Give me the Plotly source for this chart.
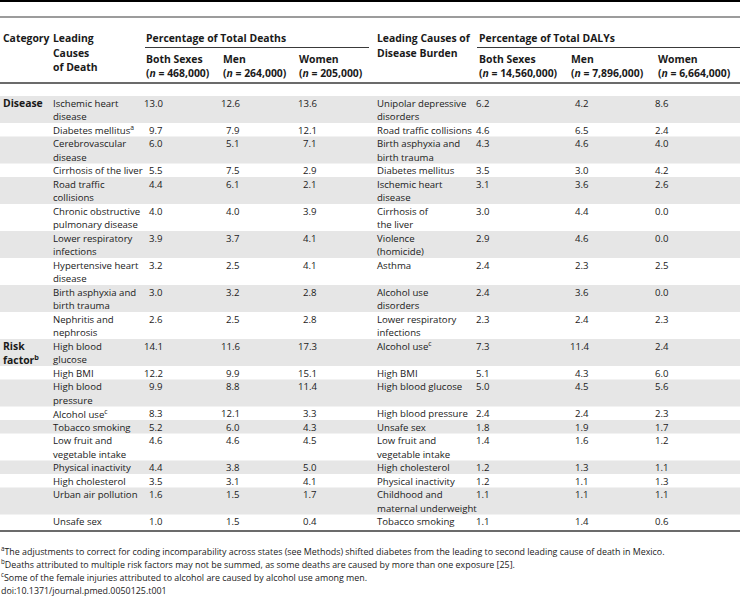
import plotly.graph_objects as go

# ---------------- data ----------------
category_labels = ["Disease", "", "", "", "", "", "", "", "", "",
                   "Risk<br>factor<sup>b</sup>", "", "", "", "", "", "", "", "", ""]

death_causes = [
    "Ischemic heart<br>disease", "Diabetes mellitus<sup>a</sup>", "Cerebrovascular<br>disease",
    "Cirrhosis of the liver", "Road traffic<br>collisions", "Chronic obstructive<br>pulmonary disease",
    "Lower respiratory<br>infections", "Hypertensive heart<br>disease", "Birth asphyxia and<br>birth trauma",
    "Nephritis and<br>nephrosis", "High blood<br>glucose", "High BMI", "High blood<br>pressure",
    "Alcohol use<sup>c</sup>", "Tobacco smoking", "Low fruit and<br>vegetable intake",
    "Physical inactivity", "High cholesterol", "Urban air pollution", "Unsafe sex",
]
deaths_both = [13.0, 9.7, 6.0, 5.5, 4.4, 4.0, 3.9, 3.2, 3.0, 2.6, 14.1, 12.2, 9.9, 8.3, 5.2, 4.6, 4.4, 3.5, 1.6, 1.0]
deaths_men = [12.6, 7.9, 5.1, 7.5, 6.1, 4.0, 3.7, 2.5, 3.2, 2.5, 11.6, 9.9, 8.8, 12.1, 6.0, 4.6, 3.8, 3.1, 1.5, 1.5]
deaths_women = [13.6, 12.1, 7.1, 2.9, 2.1, 3.9, 4.1, 4.1, 2.8, 2.8, 17.3, 15.1, 11.4, 3.3, 4.3, 4.5, 5.0, 4.1, 1.7, 0.4]

daly_causes = [
    "Unipolar depressive<br>disorders", "Road traffic collisions", "Birth asphyxia and<br>birth trauma",
    "Diabetes mellitus", "Ischemic heart<br>disease", "Cirrhosis of<br>the liver", "Violence<br>(homicide)",
    "Asthma", "Alcohol use<br>disorders", "Lower respiratory<br>infections", "Alcohol use<sup>c</sup>",
    "High BMI", "High blood glucose", "High blood pressure", "Unsafe sex",
    "Low fruit and<br>vegetable intake", "High cholesterol", "Physical inactivity",
    "Childhood and<br>maternal underweight", "Tobacco smoking",
]
daly_both = [6.2, 4.6, 4.3, 3.5, 3.1, 3.0, 2.9, 2.4, 2.4, 2.3, 7.3, 5.1, 5.0, 2.4, 1.8, 1.4, 1.2, 1.2, 1.1, 1.1]
daly_men = [4.2, 6.5, 4.6, 3.0, 3.6, 4.4, 4.6, 2.3, 3.6, 2.4, 11.4, 4.3, 4.5, 2.4, 1.9, 1.6, 1.3, 1.1, 1.1, 1.4]
daly_women = [8.6, 2.4, 4.0, 4.2, 2.6, 0.0, 0.0, 2.5, 0.0, 2.3, 2.4, 6.0, 5.6, 2.3, 1.7, 1.2, 1.1, 1.3, 1.1, 0.6]

death_groups = ["Both Sexes", "Men", "Women"]
death_ns = ["468,000", "264,000", "205,000"]
daly_groups = ["Both Sexes", "Men", "Women"]
daly_ns = ["14,560,000", "7,896,000", "6,664,000"]

footnotes = [
    "<sup>a</sup>The adjustments to correct for coding incomparability across states (see Methods) shifted diabetes from the leading to second leading cause of death in Mexico.",
    "<sup>b</sup>Deaths attributed to multiple risk factors may not be summed, as some deaths are caused by more than one exposure [25].",
    "<sup>c</sup>Some of the female injuries attributed to alcohol are caused by alcohol use among men.",
    "doi:10.1371/journal.pmed.0050125.t001",
]

# ---------------- layout / style ----------------
W, H = 740, 597
FONT = "Open Sans"
TXT = "#1a1a1a"
SHADE = "#e6e6e6"
FS = 9.6
FS_BOLD = 10.4
FS_FOOT = 8.9
LINE = 13.5
ROW_TOP0 = 96
FIRST_OFF = 7

X_CAT = 3
X_CAUSE_L = 53
DEATH_HDR_X = [146, 223, 299]
DEATH_VAL_R = [163, 240, 317]
X_CAUSE_R = 377
DALY_HDR_X = [479, 571, 658]
DALY_VAL_R = [490, 589, 669]

fig = go.Figure()
fig.add_trace(go.Scatter(x=[0, W], y=[0, H], mode="markers", marker=dict(opacity=0),
                         hoverinfo="skip", showlegend=False))

annotations = []
shapes = []


def txt(x, y, s, anchor="left", bold=False, size=None):
    if size is None:
        size = FS_BOLD if bold else FS
    s2 = f"<b>{s}</b>" if bold else s
    annotations.append(dict(x=x, y=y, xref="x", yref="y", text=s2, showarrow=False,
                            xanchor=anchor, yanchor="middle", borderpad=0, borderwidth=0,
                            font=dict(family=FONT, size=size, color=TXT)))


def multiline(x, ytop, s, anchor="left", bold=False, size=None, step=LINE):
    for i, part in enumerate(s.split("<br>")):
        txt(x, ytop + i * step, part, anchor, bold, size)


def hline(y, x0, x1, color, width):
    shapes.append(dict(type="line", xref="x", yref="y", x0=x0, x1=x1, y0=y, y1=y,
                       line=dict(color=color, width=width), layer="above"))


# header rules
hline(1, 0, W, "#000000", 2)
hline(17, 0, W, "#3a3a3a", 1.2)
hline(47.5, 145, 369, "#3a3a3a", 1)
hline(47.5, 477, W, "#3a3a3a", 1)
hline(83, 0, W, "#3a3a3a", 1.5)

# header text
txt(X_CAT, 38, "Category", bold=True)
multiline(X_CAUSE_L, 38, "Leading<br>Causes<br>of Death", bold=True, step=14.7)
txt(DEATH_HDR_X[0], 38, "Percentage of Total Deaths", bold=True)
for x, g, n in zip(DEATH_HDR_X, death_groups, death_ns):
    txt(x, 59, g, bold=True)
    txt(x, 73, f"(<i>n</i> = {n})", bold=True)
multiline(X_CAUSE_R, 38, "Leading Causes of<br>Disease Burden", bold=True, step=14.7)
txt(DALY_HDR_X[0], 38, "Percentage of Total DALYs", bold=True)
for x, g, n in zip(DALY_HDR_X, daly_groups, daly_ns):
    txt(x, 59, g, bold=True)
    txt(x, 73, f"(<i>n</i> = {n})", bold=True)

# body rows
y = ROW_TOP0
for i in range(len(death_causes)):
    nlines = max(death_causes[i].count("<br>"), daly_causes[i].count("<br>"),
                 category_labels[i].count("<br>")) + 1
    h = nlines * LINE
    if i % 2 == 0:
        shapes.append(dict(type="rect", xref="x", yref="y", x0=0, x1=W, y0=y, y1=y + h,
                           fillcolor=SHADE, line=dict(width=0), layer="below"))
    ty = y + FIRST_OFF
    if category_labels[i]:
        multiline(X_CAT, ty, category_labels[i], bold=True)
    multiline(X_CAUSE_L, ty, death_causes[i])
    for xr, vals in zip(DEATH_VAL_R, [deaths_both, deaths_men, deaths_women]):
        txt(xr, ty, f"{vals[i]:.1f}", anchor="right")
    multiline(X_CAUSE_R, ty, daly_causes[i])
    for xr, vals in zip(DALY_VAL_R, [daly_both, daly_men, daly_women]):
        txt(xr, ty, f"{vals[i]:.1f}", anchor="right")
    y += h

BOTTOM = y + 3
hline(BOTTOM, 0, W, "#3a3a3a", 1.5)

for k, fn in enumerate(footnotes):
    txt(1, BOTTOM + 20 + k * 13, fn, size=FS_FOOT)

fig.update_layout(
    width=W, height=H, margin=dict(l=0, r=0, t=0, b=0),
    paper_bgcolor="white", plot_bgcolor="white",
    xaxis=dict(range=[0, W], visible=False, fixedrange=True),
    yaxis=dict(range=[H, 0], visible=False, fixedrange=True),
    annotations=annotations, shapes=shapes, showlegend=False,
)
fig.write_html("out.html", config={"displayModeBar": False},
               post_script="document.body.style.margin='0';document.body.style.overflow='hidden';")
